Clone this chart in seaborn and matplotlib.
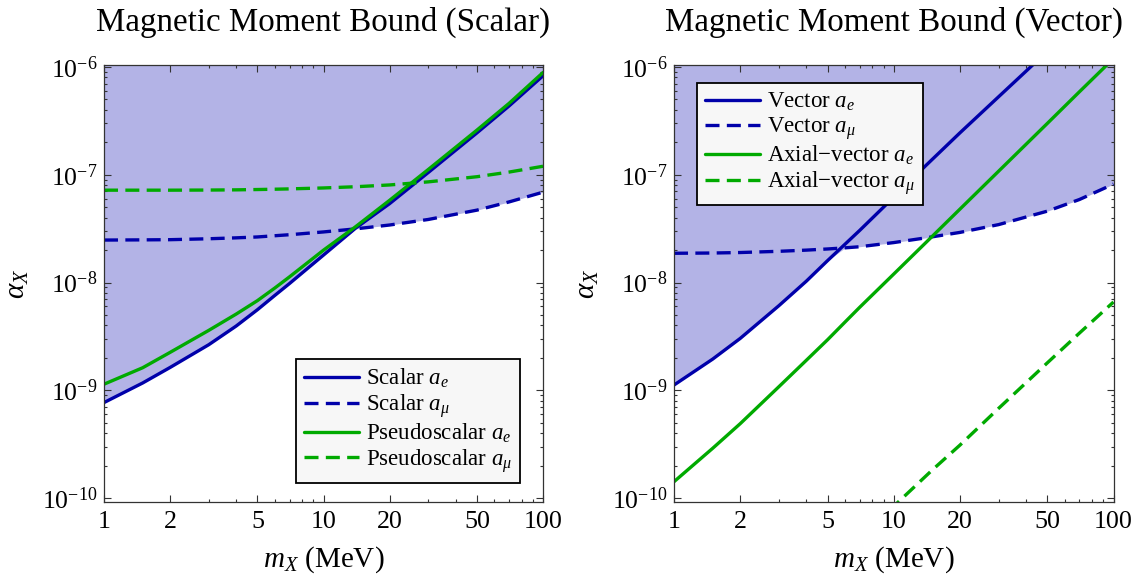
import matplotlib
matplotlib.use("Agg")
import matplotlib.pyplot as plt
import matplotlib.ticker as mticker
import numpy as np
import seaborn as sns

# shared mass grid (MeV)
mass = [1, 1.5, 2, 3, 4, 5, 6, 7, 10, 14, 20, 30, 50, 70, 100]

# scalar / pseudoscalar bounds on alpha_X
scalar_ae = [7.7e-10, 1.17e-9, 1.63e-9, 2.65e-9, 3.95e-9, 5.6e-9, 7.6e-9, 9.8e-9,
             1.8e-8, 3.2e-8, 5.4e-8, 1.05e-7, 2.45e-7, 4.35e-7, 8.3e-7]
scalar_amu = [2.48e-8, 2.49e-8, 2.5e-8, 2.55e-8, 2.6e-8, 2.65e-8, 2.72e-8, 2.78e-8,
              2.95e-8, 3.15e-8, 3.42e-8, 3.85e-8, 4.7e-8, 5.6e-8, 6.9e-8]
pseudo_ae = [1.14e-9, 1.62e-9, 2.25e-9, 3.6e-9, 5.1e-9, 6.8e-9, 8.9e-9, 1.13e-8,
             2.0e-8, 3.3e-8, 5.8e-8, 1.12e-7, 2.6e-7, 4.6e-7, 8.9e-7]
pseudo_amu = [7.2e-8, 7.2e-8, 7.2e-8, 7.22e-8, 7.25e-8, 7.3e-8, 7.35e-8, 7.4e-8,
              7.55e-8, 7.75e-8, 8.05e-8, 8.6e-8, 9.6e-8, 1.06e-7, 1.2e-7]

# vector / axial-vector bounds on alpha_X
vector_ae = [1.12e-9, 1.95e-9, 3.03e-9, 6.1e-9, 1.03e-8, 1.6e-8, 2.27e-8, 3.05e-8,
             6.2e-8, 1.22e-7, 2.45e-7, 5.3e-7, 1.4e-6, 2.7e-6, 5.5e-6]
vector_amu = [1.87e-8, 1.88e-8, 1.9e-8, 1.95e-8, 2.0e-8, 2.05e-8, 2.1e-8, 2.15e-8,
              2.35e-8, 2.6e-8, 2.92e-8, 3.45e-8, 4.6e-8, 5.9e-8, 8.2e-8]
axial_ae = [1.42e-10, 2.9e-10, 4.9e-10, 1.08e-9, 1.9e-9, 2.95e-9, 4.3e-9, 5.9e-9,
            1.2e-8, 2.35e-8, 4.8e-8, 1.08e-7, 3.0e-7, 5.9e-7, 1.2e-6]
axial_mass = [8, 10, 15, 20, 30, 50, 70, 100]
axial_amu = [5.7e-11, 8.4e-11, 1.83e-10, 3.1e-10, 6.8e-10, 1.8e-9, 3.4e-9, 6.6e-9]

x_major = [1, 2, 5, 10, 20, 50, 100]
x_minor = [3, 4, 6, 7, 8, 9, 30, 40, 60, 70, 80, 90]
y_major = [1e-10, 1e-9, 1e-8, 1e-7, 1e-6]
y_minor = [m * d for d in y_major[:-1] for m in range(2, 10)]

BLUE = "#0000aa"
GREEN = "#00aa00"
FILL = "#b3b3e6"
DASH = (0, (4.2, 2.2))
LW = 2.4
YLIM = (9.2e-11, 1.044e-6)
MINUS = "\u2212"

sns.set_style("ticks")
plt.rcParams["font.family"] = ["Liberation Serif", "DejaVu Serif"]
plt.rcParams["mathtext.fontset"] = "custom"
plt.rcParams["mathtext.rm"] = "Liberation Serif"
plt.rcParams["mathtext.it"] = "Liberation Serif:italic"
plt.rcParams["mathtext.bf"] = "Liberation Serif:bold"
for key in ("text.color", "axes.labelcolor", "xtick.color", "ytick.color"):
    plt.rcParams[key] = "black"


def style_axes(ax, title):
    ax.set_xscale("log")
    ax.set_yscale("log")
    ax.set_xlim(1, 100)
    ax.set_ylim(*YLIM)
    ax.xaxis.set_major_locator(mticker.FixedLocator(x_major))
    ax.xaxis.set_major_formatter(mticker.FuncFormatter(lambda v, _: f"{v:g}"))
    ax.xaxis.set_minor_locator(mticker.FixedLocator(x_minor))
    ax.xaxis.set_minor_formatter(mticker.NullFormatter())
    ax.yaxis.set_major_locator(mticker.FixedLocator(y_major))
    ax.yaxis.set_major_formatter(mticker.LogFormatterMathtext())
    ax.yaxis.set_minor_locator(mticker.FixedLocator(y_minor))
    ax.yaxis.set_minor_formatter(mticker.NullFormatter())
    ax.tick_params(which="both", direction="in", top=True, right=True,
                   color="#333333", width=0.8)
    ax.tick_params(which="major", length=5)
    ax.tick_params(which="minor", length=2.5)
    ax.tick_params(axis="x", which="major", pad=6.5, labelsize=18.7)
    ax.tick_params(axis="y", which="major", pad=4.5, labelsize=18.5)
    for sp in ax.spines.values():
        sp.set_visible(True)
        sp.set_color("#333333")
        sp.set_linewidth(0.9)
    ax.set_xlabel("$m_X$ (MeV)", fontsize=21, labelpad=8)
    ax.set_ylabel(r"$\alpha_X$", fontsize=21, labelpad=8)
    ax.set_title(title, fontsize=23.8, pad=25)


def draw(ax, x, y, color, ls, label):
    sns.lineplot(x=x, y=y, ax=ax, color=color, lw=LW, linestyle=ls,
                 label=label, estimator=None, sort=False)


fig = plt.figure(figsize=(11.43, 5.79), dpi=100)
ax1 = fig.add_axes([0.0910, 0.1330, 0.3841, 0.7547])
ax2 = fig.add_axes([0.5897, 0.1330, 0.3845, 0.7547])

# left panel: scalar
style_axes(ax1, "Magnetic Moment Bound (Scalar)")
ax1.fill_between(mass, np.minimum(scalar_ae, scalar_amu), YLIM[1] * 2,
                 color=FILL, lw=0, zorder=0)
draw(ax1, mass, scalar_ae, BLUE, "-", "Scalar $a_e$")
draw(ax1, mass, scalar_amu, BLUE, DASH, r"Scalar $a_\mu$")
draw(ax1, mass, pseudo_ae, GREEN, "-", "Pseudoscalar $a_e$")
draw(ax1, mass, pseudo_amu, GREEN, DASH, r"Pseudoscalar $a_\mu$")
ax1.set_ylim(*YLIM)

# right panel: vector
style_axes(ax2, "Magnetic Moment Bound (Vector)")
ax2.fill_between(mass, np.minimum(vector_ae, vector_amu), YLIM[1] * 2,
                 color=FILL, lw=0, zorder=0)
draw(ax2, mass, vector_ae, BLUE, "-", "Vector $a_e$")
draw(ax2, mass, vector_amu, BLUE, DASH, r"Vector $a_\mu$")
draw(ax2, mass, axial_ae, GREEN, "-", "Axial" + MINUS + "vector $a_e$")
draw(ax2, axial_mass, axial_amu, GREEN, DASH, "Axial" + MINUS + r"vector $a_\mu$")
ax2.set_ylim(*YLIM)

leg_kw = dict(fontsize=16.5, frameon=True, fancybox=False, framealpha=1,
              edgecolor="black", facecolor="#f7f7f7", handlelength=2.4,
              handletextpad=0.3, labelspacing=0.08, borderpad=0.36,
              borderaxespad=0)
leg1 = ax1.legend(loc="lower right", bbox_to_anchor=(0.948, 0.0435), **leg_kw)
leg2 = ax2.legend(loc="upper left", bbox_to_anchor=(0.052, 0.959), **leg_kw)
for leg in (leg1, leg2):
    leg.get_frame().set_linewidth(1.3)

fig.savefig("out.png", dpi=100)
